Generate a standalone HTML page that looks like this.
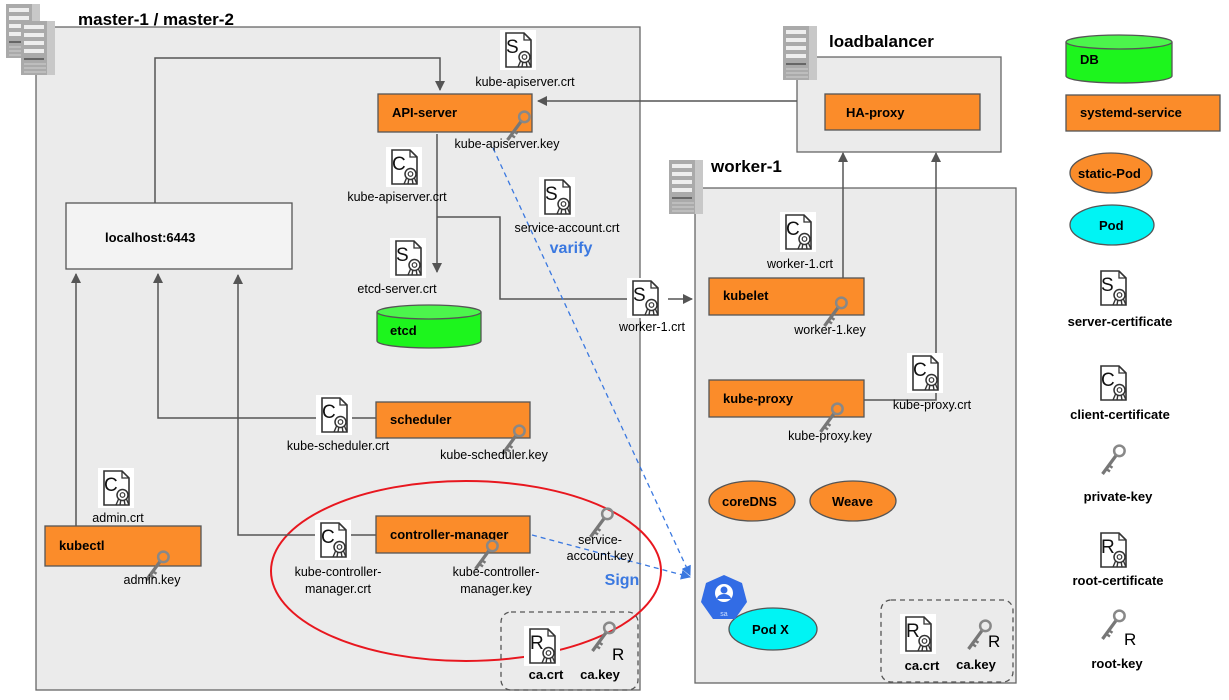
<!DOCTYPE html>
<html><head><meta charset="utf-8"><style>
html,body{margin:0;padding:0;background:#fff;}
svg{display:block;font-family:"Liberation Sans",Arial,sans-serif;}
.b{font-weight:bold;font-size:13px;fill:#000}
.t{font-size:12.5px;fill:#000}
.ttl{font-weight:bold;font-size:17px;fill:#000}
</style></head><body>
<svg width="1229" height="700" viewBox="0 0 1229 700" xmlns="http://www.w3.org/2000/svg">
<defs>
<marker id="ar" markerWidth="10" markerHeight="10" refX="9" refY="5" orient="auto" markerUnits="userSpaceOnUse"><path d="M0,0 L10,5 L0,10 z" fill="#555"/></marker>
<marker id="ab" markerWidth="10" markerHeight="10" refX="9" refY="5" orient="auto" markerUnits="userSpaceOnUse"><path d="M0,0 L10,5 L0,10 z" fill="#3a78e0"/></marker>
<g id="cert">
<rect x="0" y="0" width="36" height="40" fill="#fff"/>
<path d="M6,3 H24 L31,10 V37 H6 Z" fill="#fff" stroke="#333" stroke-width="1.6"/>
<path d="M24,3 V10 H31" fill="none" stroke="#333" stroke-width="1.3"/>
<path d="M21,30 l-3,7 M23,31 l-1,6 M26,31 l1,6 M28,30 l3,7" stroke="#333" stroke-width="1.4"/>
<circle cx="24.5" cy="27" r="5.5" fill="#fff" stroke="#333" stroke-width="1.5"/>
<circle cx="24.5" cy="27" r="2.3" fill="none" stroke="#333" stroke-width="1.2"/>
</g>
<g id="key0">
<line x1="2" y1="24" x2="13" y2="9" stroke="#777" stroke-width="2.6"/>
<path d="M5,20 l3,2 M7,17 l3,2" stroke="#777" stroke-width="2"/>
<circle cx="15.5" cy="5.5" r="4.2" fill="none" stroke="#888" stroke-width="2"/>
</g>
<g id="key"><use href="#key0" transform="scale(1.25)"/></g>
<g id="srv">
<rect x="0" y="0" width="34" height="54" fill="#aaa"/>
<rect x="26" y="0" width="8" height="54" fill="#c8c8c8"/>
<g fill="#eee"><rect x="3" y="4" width="20" height="4"/><rect x="3" y="12" width="20" height="4"/><rect x="3" y="20" width="20" height="4"/><rect x="3" y="28" width="20" height="4"/></g>
<rect x="3" y="37" width="20" height="2" fill="#666"/>
<g stroke="#d0d0d0" stroke-width="1"><line x1="3" y1="43" x2="25" y2="43"/><line x1="3" y1="47" x2="25" y2="47"/><line x1="3" y1="51" x2="25" y2="51"/></g>
</g>
</defs>

<rect x="36" y="27" width="604" height="663" fill="#ebebeb" stroke="#666" stroke-width="1.3"/>
<rect x="797" y="57" width="204" height="95" fill="#ebebeb" stroke="#666" stroke-width="1.3"/>
<rect x="695" y="188" width="321" height="495" fill="#ebebeb" stroke="#666" stroke-width="1.3"/>
<use href="#srv" x="6" y="4"/>
<use href="#srv" x="21" y="21"/>
<use href="#srv" x="783" y="26"/>
<use href="#srv" x="669" y="160"/>
<text x="78" y="25" class="ttl">master-1 / master-2</text>
<text x="829" y="47" class="ttl">loadbalancer</text>
<text x="711" y="172" class="ttl">worker-1</text>

<ellipse cx="466" cy="571" rx="195" ry="90" fill="none" stroke="#e8171f" stroke-width="2"/>

<g fill="none" stroke="#555" stroke-width="1.5">
<path d="M155,203 V58 H440 V90" marker-end="url(#ar)"/>
<path d="M437,134 V272" marker-end="url(#ar)"/>
<path d="M437,217 H500 V299 H627"/>
<path d="M668,299 H692" marker-end="url(#ar)"/>
<path d="M797,101 H538" marker-end="url(#ar)"/>
<path d="M843,278 V153" marker-end="url(#ar)"/>
<path d="M864,400 H936 V153" marker-end="url(#ar)"/>
<path d="M376,418 H158 V274" marker-end="url(#ar)"/>
<path d="M376,535 H238 V275" marker-end="url(#ar)"/>
<path d="M76,526 V274" marker-end="url(#ar)"/>
</g>
<g fill="none" stroke="#3a78e0" stroke-width="1.3" stroke-dasharray="5,4">
<path d="M493,148 L690,575" marker-end="url(#ab)"/>
<path d="M532,535 L690,577" marker-end="url(#ab)"/>
</g>

<g stroke="#555" stroke-width="1.3" fill="#fb8c2a">
<rect x="378" y="94" width="154" height="38"/>
<rect x="825" y="94" width="155" height="36"/>
<rect x="709" y="278" width="155" height="37"/>
<rect x="709" y="380" width="155" height="37"/>
<rect x="376" y="402" width="154" height="36"/>
<rect x="376" y="516" width="154" height="37"/>
<rect x="45" y="526" width="156" height="40"/>
<rect x="1066" y="95" width="154" height="36"/>
</g>
<rect x="66" y="203" width="226" height="66" fill="#f3f3f3" stroke="#555" stroke-width="1.3"/>
<text x="105" y="242" class="b">localhost:6443</text>
<text x="392" y="117" class="b">API-server</text>
<text x="846" y="117" class="b">HA-proxy</text>
<text x="723" y="300" class="b">kubelet</text>
<text x="723" y="403" class="b">kube-proxy</text>
<text x="390" y="424" class="b">scheduler</text>
<text x="390" y="539" class="b">controller-manager</text>
<text x="59" y="550" class="b">kubectl</text>
<text x="1080" y="117" class="b">systemd-service</text>

<g stroke="#555" stroke-width="1.3">
<path d="M377,312 V341 A52,7 0 0 0 481,341 V312" fill="#1df51d"/>
<ellipse cx="429" cy="312" rx="52" ry="7" fill="#4cf54c"/>
<path d="M1066,42 V76 A53,7 0 0 0 1172,76 V42" fill="#1df51d"/>
<ellipse cx="1119" cy="42" rx="53" ry="7" fill="#4cf54c"/>
<ellipse cx="752" cy="501" rx="43" ry="20" fill="#fb8c2a"/>
<ellipse cx="853" cy="501" rx="43" ry="20" fill="#fb8c2a"/>
<ellipse cx="1111" cy="173" rx="41" ry="20" fill="#fb8c2a"/>
<ellipse cx="1112" cy="225" rx="42" ry="20" fill="#00f4f4"/>
<ellipse cx="773" cy="629" rx="44" ry="21" fill="#00f4f4"/>
</g>
<text x="390" y="335" class="b">etcd</text>
<text x="1080" y="64" class="b">DB</text>
<text x="722" y="506" class="b">coreDNS</text>
<text x="832" y="506" class="b">Weave</text>
<text x="1078" y="178" class="b">static-Pod</text>
<text x="1099" y="230" class="b">Pod</text>
<text x="752" y="634" class="b">Pod X</text>

<polygon points="724,575 742,583 747,602 735,619 713,619 701,602 706,583" fill="#326ce5"/>
<circle cx="724" cy="593" r="9" fill="#fff"/>
<circle cx="724" cy="590" r="3.5" fill="#326ce5"/>
<path d="M717,599 a7,5 0 0 1 14,0" fill="#326ce5"/>
<text x="724" y="616" font-size="7" fill="#cfe0ff" text-anchor="middle">sa</text>

<rect x="501" y="612" width="137" height="78" rx="10" fill="none" stroke="#555" stroke-width="1.3" stroke-dasharray="5,4"/>
<rect x="881" y="600" width="132" height="82" rx="10" fill="none" stroke="#555" stroke-width="1.3" stroke-dasharray="5,4"/>

<g font-family="Liberation Sans" font-size="19" fill="#111">
<use href="#cert" x="500" y="30"/><text x="506" y="53">S</text>
<use href="#cert" x="386" y="147"/><text x="392" y="170">C</text>
<use href="#cert" x="539" y="177"/><text x="545" y="200">S</text>
<use href="#cert" x="390" y="238"/><text x="396" y="261">S</text>
<use href="#cert" x="627" y="278"/><text x="633" y="301">S</text>
<use href="#cert" x="780" y="212"/><text x="786" y="235">C</text>
<use href="#cert" x="907" y="353"/><text x="913" y="376">C</text>
<use href="#cert" x="316" y="395"/><text x="322" y="418">C</text>
<use href="#cert" x="98" y="468"/><text x="104" y="491">C</text>
<use href="#cert" x="315" y="520"/><text x="321" y="543">C</text>
<use href="#cert" x="524" y="626"/><text x="530" y="649">R</text>
<use href="#cert" x="900" y="614"/><text x="906" y="637">R</text>
<use href="#cert" x="1095" y="268"/><text x="1101" y="291">S</text>
<use href="#cert" x="1095" y="363"/><text x="1101" y="386">C</text>
<use href="#cert" x="1095" y="530"/><text x="1101" y="553">R</text>
</g>
<use href="#key" x="505" y="110"/>
<use href="#key" x="822" y="296"/>
<use href="#key" x="818" y="402"/>
<use href="#key" x="500" y="424"/>
<use href="#key" x="144" y="550"/>
<use href="#key" x="473" y="539"/>
<use href="#key" x="588" y="507"/>
<use href="#key" x="590" y="621"/>
<use href="#key" x="966" y="619"/>
<use href="#key" x="1100" y="444"/>
<use href="#key" x="1100" y="609"/>
<g font-size="17" font-family="Liberation Sans"><text x="612" y="660">R</text><text x="988" y="647">R</text><text x="1124" y="645">R</text></g>

<g class="t" text-anchor="middle" font-size="12.5">
<text x="525" y="86">kube-apiserver.crt</text>
<text x="507" y="148">kube-apiserver.key</text>
<text x="397" y="201">kube-apiserver.crt</text>
<text x="567" y="232">service-account.crt</text>
<text x="397" y="293">etcd-server.crt</text>
<text x="652" y="331">worker-1.crt</text>
<text x="800" y="268">worker-1.crt</text>
<text x="830" y="334">worker-1.key</text>
<text x="932" y="409">kube-proxy.crt</text>
<text x="830" y="440">kube-proxy.key</text>
<text x="338" y="450">kube-scheduler.crt</text>
<text x="494" y="459">kube-scheduler.key</text>
<text x="118" y="522">admin.crt</text>
<text x="152" y="584">admin.key</text>
<text x="338" y="576">kube-controller-</text>
<text x="338" y="593">manager.crt</text>
<text x="496" y="576">kube-controller-</text>
<text x="496" y="593">manager.key</text>
<text x="600" y="544">service-</text>
<text x="600" y="560">account.key</text>
</g>
<g text-anchor="middle" font-weight="bold" font-size="13">
<text x="546" y="679">ca.crt</text><text x="600" y="679">ca.key</text>
<text x="922" y="670">ca.crt</text><text x="976" y="669">ca.key</text>
<text x="1120" y="326">server-certificate</text>
<text x="1120" y="419">client-certificate</text>
<text x="1118" y="501">private-key</text>
<text x="1118" y="585">root-certificate</text>
<text x="1117" y="668">root-key</text>
</g>
<g fill="#3a78e0" font-weight="bold" font-size="16" text-anchor="middle">
<text x="571" y="253">varify</text>
<text x="622" y="585">Sign</text>
</g>
</svg>
</body></html>
